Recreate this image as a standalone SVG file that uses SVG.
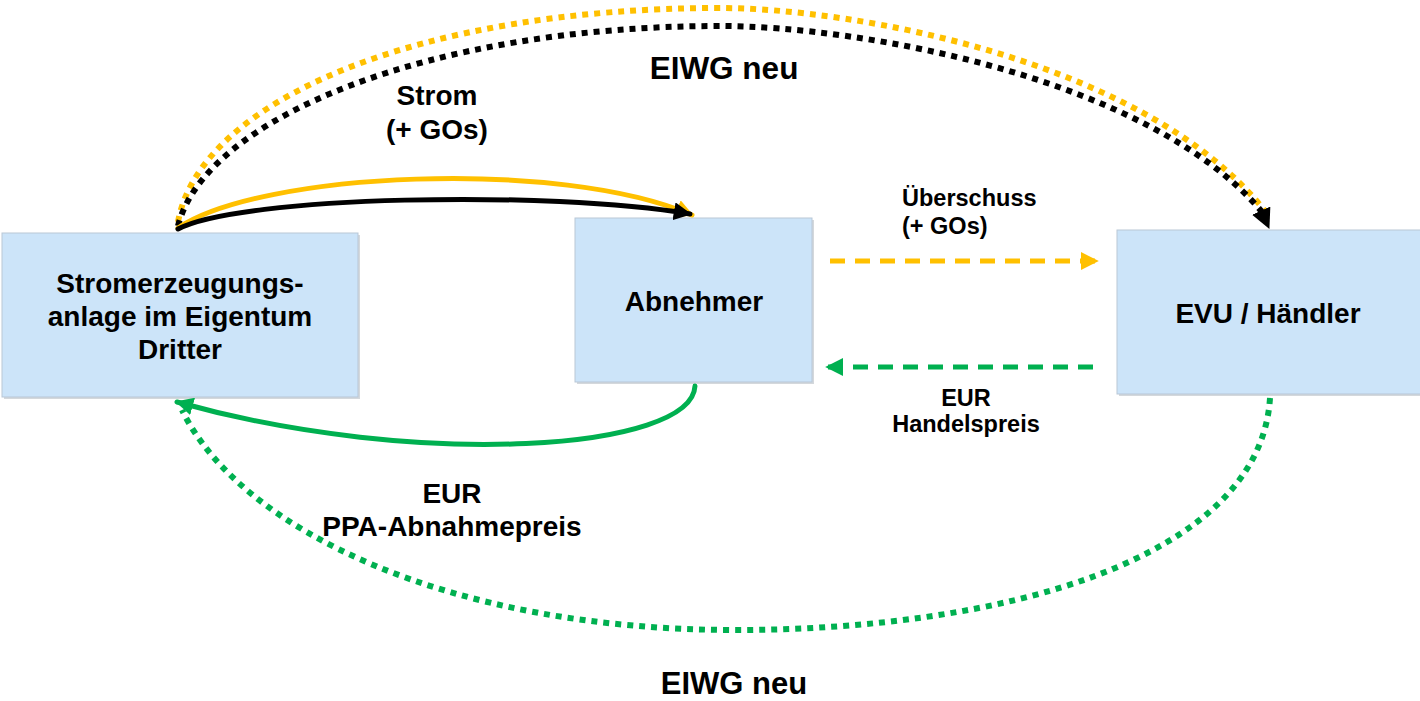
<svg xmlns="http://www.w3.org/2000/svg" width="1420" height="701" viewBox="0 0 1420 701">
<defs>
<style>
.box{fill:#CCE4F9;stroke:#B9C7D6;stroke-width:1}
.shadow{fill:#D4D8DC}
.t{font-family:"Liberation Sans",Arial,sans-serif;font-weight:bold;fill:#000;text-anchor:middle}
.s{text-anchor:start}
.solid{fill:none;stroke-width:5;stroke-linecap:round}
.dot{fill:none;stroke-width:6;stroke-dasharray:6 6}
.dash{fill:none;stroke-width:5;stroke-dasharray:15 10}
</style>
<marker id="aY" viewBox="0 0 10 10" refX="9" refY="5" markerWidth="18" markerHeight="18" markerUnits="userSpaceOnUse" orient="auto"><path d="M0,0 L10,5 L0,10 Z" fill="#FFC000"/></marker>
<marker id="aK" viewBox="0 0 10 10" refX="9" refY="5" markerWidth="18" markerHeight="18" markerUnits="userSpaceOnUse" orient="auto"><path d="M0,0 L10,5 L0,10 Z" fill="#000"/></marker>
<marker id="aKL" viewBox="0 0 10 10" refX="9.5" refY="5" markerWidth="20" markerHeight="20" markerUnits="userSpaceOnUse" orient="auto"><path d="M0,0 L10,5 L0,10 Z" fill="#000"/></marker>
<marker id="aG" viewBox="0 0 10 10" refX="9" refY="5" markerWidth="18" markerHeight="18" markerUnits="userSpaceOnUse" orient="auto"><path d="M0,0 L10,5 L0,10 Z" fill="#00B050"/></marker>
</defs>
<rect width="1420" height="701" fill="#fff"/>
<g id="node-anlage">
<rect class="shadow" x="4" y="235" width="356" height="164"/>
<rect class="box" x="2" y="233" width="356" height="164"/>
<text class="t" font-size="28" x="180" y="293">Stromerzeugungs-</text>
<text class="t" font-size="28" x="180" y="326">anlage im Eigentum</text>
<text class="t" font-size="28" x="180" y="359">Dritter</text>
</g>
<g id="node-abnehmer">
<rect class="shadow" x="577" y="220" width="237" height="164"/>
<rect class="box" x="575" y="218" width="237" height="164"/>
<text class="t" font-size="28" x="694" y="311">Abnehmer</text>
</g>
<g id="node-evu">
<rect class="shadow" x="1119" y="232" width="301" height="164"/>
<rect class="box" x="1117" y="230" width="305" height="164"/>
<text class="t" font-size="28" x="1268" y="323">EVU / Händler</text>
</g>
<g id="connectors">
<path class="dot" stroke="#FFC000" d="M178,222 C200,100 420,8 720,8 C850,8 1150,60 1268,215"/>
<path class="dot" stroke="#000" d="M178,226 C205,118 430,26 720,26 C860,26 1150,78 1262,212"/>
<path fill="none" stroke="none" d="M1260,208 L1269,228" marker-end="url(#aKL)"/>
<path class="solid" stroke="#FFC000" d="M178,228 C260,172 560,158 692,215" marker-end="url(#aY)"/>
<path class="solid" stroke="#000" d="M178,229 C240,196 550,190 690,214" marker-end="url(#aK)"/>
<path class="dash" stroke="#FFC000" d="M830,261 L1097,261" marker-end="url(#aY)"/>
<path class="dash" stroke="#00B050" d="M1093,367 L827,367" marker-end="url(#aG)"/>
<path class="solid" stroke="#00B050" d="M695,386 C692,450 420,470 177,402" marker-end="url(#aG)"/>
<path class="dot" stroke="#00B050" d="M1270,398 C1260,560 1000,630 735,630 C450,630 240,530 182,410"/>
</g>
<g id="labels">
<text class="t" font-size="31.5" x="724" y="79">EIWG neu</text>
<text class="t" font-size="28" x="437" y="105">Strom</text>
<text class="t" font-size="28" x="437" y="139">(+ GOs)</text>
<text class="t s" font-size="23.5" x="902" y="206">Überschuss</text>
<text class="t s" font-size="23.5" x="902" y="234">(+ GOs)</text>
<text class="t" font-size="23.5" x="966" y="406">EUR</text>
<text class="t" font-size="23.5" x="966" y="432">Handelspreis</text>
<text class="t" font-size="28" x="452" y="503">EUR</text>
<text class="t" font-size="28" x="452" y="536">PPA-Abnahmepreis</text>
<text class="t" font-size="31" x="734" y="694">EIWG neu</text>
</g>
</svg>
